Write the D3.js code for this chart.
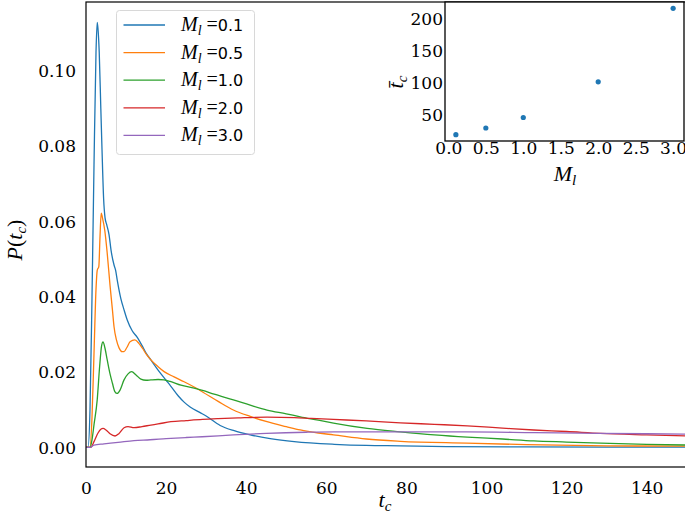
<!DOCTYPE html>
<html><head><meta charset="utf-8">
<script src="https://cdn.jsdelivr.net/npm/d3@7"></script>
<style>
html,body{margin:0;padding:0;background:#fff;}
svg{display:block;}
</style></head>
<body>
<svg id="chart" width="685" height="514"></svg>
<script>
// ---------- data ----------
const seriesLabels = ["0.1", "0.5", "1.0", "2.0", "3.0"];
const seriesColors = ["#1f77b4", "#ff7f0e", "#2ca02c", "#d62728", "#9467bd"];

const tBlue = [0,0.5,1.0,1.5,2.0,2.5,2.8,3.0,3.3,3.7,4.0,4.4,4.75,5.2,5.75,6.3,7.0,7.4,7.8,8.7,9.5,10.3,11.5,12.8,14,15,16.2,18,20,21.2,23,24.5,26,28.5,30,33.5,37,41,46,52,62,70,78.5,90,110,130,150];
const pBlue = [0,0,0.01,0.04,0.075,0.105,0.1128,0.111,0.105,0.09,0.079,0.066,0.061,0.059,0.0565,0.052,0.0484,0.047,0.0444,0.0395,0.0365,0.0338,0.031,0.0292,0.027,0.025,0.0232,0.0205,0.0178,0.0162,0.0137,0.012,0.0107,0.0092,0.0083,0.0058,0.0044,0.0033,0.0023,0.0015,0.0008,0.0005,0.0004,0.0002,0.0001,0.00006,0.00005];

const tOrange = [0,1.0,1.5,2.0,2.5,2.8,3.2,3.5,3.8,4.1,4.7,5.3,6.0,6.6,7.0,7.6,8.25,9.0,9.5,10.2,11.0,12.2,13.2,14.1,15,16.2,18,19.5,22,24.5,27,29.1,33,36.8,41,45.2,50,53.5,58,61.8,70,78.5,95,110,130,150];
const pOrange = [0,0,0.008,0.025,0.042,0.047,0.048,0.056,0.0622,0.061,0.0575,0.0515,0.043,0.0365,0.032,0.0285,0.0264,0.0254,0.0254,0.0265,0.028,0.0285,0.0276,0.0263,0.0248,0.0232,0.0214,0.0201,0.0187,0.0174,0.016,0.0147,0.0122,0.0099,0.0082,0.0068,0.0055,0.0046,0.0038,0.0033,0.0022,0.0016,0.0011,0.0007,0.0004,0.0003];

const tGreen = [0,1.0,1.5,2.0,2.8,3.4,3.9,4.25,4.7,5.3,6.0,6.6,7.2,7.8,8.5,9.5,10.5,11.4,12.5,13.7,15,16.2,18,19.5,21,23.7,27,29.1,32,36.8,41,45.2,50,53.5,58,61.8,70.2,78.5,87,95.2,104,111.8,120,128.5,140,150];
const pGreen = [0,0,0.002,0.006,0.0126,0.0214,0.027,0.028,0.0265,0.0232,0.0195,0.017,0.0148,0.0143,0.0152,0.0179,0.0195,0.0201,0.0192,0.0181,0.0178,0.0179,0.018,0.0179,0.0175,0.0165,0.0157,0.0151,0.0141,0.0126,0.0112,0.0099,0.0089,0.0081,0.0072,0.0064,0.005,0.0041,0.0033,0.0027,0.0022,0.0017,0.0014,0.0011,0.0008,0.0006];

const tRed = [0,1.2,2.0,3.0,3.7,4.25,5.0,6.0,7.25,8.2,9.5,10.5,12,14,16.2,18,21.2,25,29.1,33,38,45.2,52,56,61.8,70,78.5,87,95.2,104,111.8,120,128.5,140,150];
const pRed = [0,0,0.0015,0.0038,0.0048,0.005,0.0046,0.0036,0.003,0.0036,0.0052,0.0055,0.0052,0.0055,0.0059,0.0062,0.0068,0.0071,0.0074,0.0076,0.0078,0.008,0.0079,0.0077,0.0074,0.007,0.0065,0.0061,0.0057,0.0051,0.0046,0.0042,0.0037,0.0033,0.003];

const tPurple = [0,1,2,4.5,8,12,16,20,25,29,36.8,45,55,62,78.5,95,112,128,140,150];
const pPurple = [0,0,0.0006,0.0009,0.0013,0.0018,0.002,0.0023,0.0026,0.0028,0.0033,0.0037,0.004,0.0041,0.0041,0.0041,0.0039,0.0037,0.0036,0.0035];

const xTicks = [0,20,40,60,80,100,120,140];
const yTicks = [0,0.02,0.04,0.06,0.08,0.10];

// inset
const insetM = [0.1, 0.5, 1.0, 2.0, 3.0];
const insetT = [18.7, 29.1, 45.5, 101.3, 216];
const insetXTicks = [0,0.5,1.0,1.5,2.0,2.5,3.0];
const insetYTicks = [50,100,150,200];

// ---------- drawing ----------
const NUM = '"DejaVu Serif"';
const ITAL = '"Liberation Serif"';
const SANS = '"DejaVu Sans"';
const svg = d3.select("#chart");

const M = {l:86, r:686.7, t:2, b:467};
const x = d3.scaleLinear().domain([0,150]).range([M.l, M.r]);
const y = d3.scaleLinear().domain([-0.00523, 0.11824]).range([M.b, M.t]);

const series = [
  {t:tBlue, p:pBlue}, {t:tOrange, p:pOrange}, {t:tGreen, p:pGreen},
  {t:tRed, p:pRed}, {t:tPurple, p:pPurple}
];

svg.append("defs").append("clipPath").attr("id","mainclip")
  .append("rect").attr("x",M.l).attr("y",M.t).attr("width",M.r-M.l).attr("height",M.b-M.t);

const line = d3.line().x(d=>x(d[0])).y(d=>y(d[1])).curve(d3.curveMonotoneX);
const gLines = svg.append("g").attr("clip-path","url(#mainclip)");
series.forEach((s,i)=>{
  const pts = s.t.map((t,j)=>[t, s.p[j]]);
  gLines.append("path").datum(pts).attr("d", line)
    .attr("fill","none").attr("stroke", seriesColors[i]).attr("stroke-width",1.3)
    .attr("stroke-linejoin","round");
});

function styleTicks(g){
  g.attr("font-family", null);
  g.select(".domain").remove();
  g.selectAll("text").attr("font-family","DejaVu Serif").style("font-family",NUM)
    .style("font-size","17px").attr("fill","#000");
}

const xAxis = d3.axisBottom(x).tickValues(xTicks).tickSize(0).tickPadding(15).tickFormat(d3.format("d"));
const gx = svg.append("g").attr("transform",`translate(0,${M.b})`).call(xAxis);
const yAxis = d3.axisLeft(y).tickValues(yTicks).tickSize(0).tickPadding(10).tickFormat(d3.format(".2f"));
const gy = svg.append("g").attr("transform",`translate(${M.l},0)`).call(yAxis);
styleTicks(gx); styleTicks(gy);
gy.selectAll("text").attr("dy","0.35em");

svg.append("rect").attr("x",M.l).attr("y",M.t).attr("width",M.r-M.l).attr("height",M.b-M.t)
  .attr("fill","none").attr("stroke","#000").attr("stroke-width",1.2);

// axis labels
const xl = svg.append("text").attr("x",385).attr("y",507).attr("text-anchor","middle")
  .style("font-family",ITAL).style("font-size","22px").style("font-style","italic");
xl.append("tspan").text("t");
xl.append("tspan").style("font-size","15px").attr("dy",4).text("c");

const yl = svg.append("text").attr("transform","translate(22,240) rotate(-90)").attr("text-anchor","middle")
  .style("font-family",ITAL).style("font-size","22px");
yl.append("tspan").style("font-style","italic").text("P");
yl.append("tspan").text("(");
yl.append("tspan").style("font-style","italic").text("t");
yl.append("tspan").style("font-style","italic").style("font-size","15px").attr("dy",4).text("c");
yl.append("tspan").attr("dy",-4).text(")");

// legend
const lg = svg.append("g");
lg.append("rect").attr("x",116.5).attr("y",10.5).attr("width",138).attr("height",144).attr("rx",3)
  .attr("fill","#fff").attr("fill-opacity",0.8).attr("stroke","#d8d8d8").attr("stroke-width",1);
seriesLabels.forEach((lab,i)=>{
  const yy = 25 + i*27.6;
  lg.append("line").attr("x1",123.5).attr("x2",165).attr("y1",yy).attr("y2",yy)
    .attr("stroke",seriesColors[i]).attr("stroke-width",1.3);
  const t = lg.append("text").attr("x",181).attr("y",yy+6).style("font-size","20px").style("font-family",ITAL);
  t.append("tspan").style("font-family",ITAL).style("font-style","italic").text("M");
  t.append("tspan").style("font-family",ITAL).style("font-style","italic").style("font-size","14px").attr("dy",4).text("l");
  t.append("tspan").style("font-family",ITAL).attr("dy",-4).text(" =");
  t.append("tspan").style("font-family",SANS).style("font-size","16px").text(lab);
});

// inset
const I = {l:445, r:684, t:2, b:141};
const ix = d3.scaleLinear().domain([-0.045, 3.145]).range([I.l, I.r]);
const ext = d3.extent(insetT), pad = (ext[1]-ext[0])*0.05;
const iy = d3.scaleLinear().domain([ext[0]-pad, ext[1]+pad]).range([I.b, I.t]);
svg.append("rect").attr("x",I.l).attr("y",I.t).attr("width",I.r-I.l).attr("height",I.b-I.t)
  .attr("fill","#fff").attr("stroke","#000").attr("stroke-width",1.3);
svg.append("g").selectAll("circle").data(insetM.map((m,i)=>[m, insetT[i]])).join("circle")
  .attr("cx",d=>ix(d[0])).attr("cy",d=>iy(d[1])).attr("r",2.6).attr("fill","#1f77b4");
const igx = svg.append("g").attr("transform",`translate(0,${I.b})`)
  .call(d3.axisBottom(ix).tickValues(insetXTicks).tickSize(0).tickPadding(1).tickFormat(d3.format(".1f")));
const igy = svg.append("g").attr("transform",`translate(${I.l},0)`)
  .call(d3.axisLeft(iy).tickValues(insetYTicks).tickSize(0).tickPadding(2).tickFormat(d3.format("d")));
styleTicks(igx); styleTicks(igy);
igy.selectAll("text").attr("dy","0.35em");

const ixl = svg.append("text").attr("x",565).attr("y",181).attr("text-anchor","middle")
  .style("font-family",ITAL).style("font-size","22px").style("font-style","italic");
ixl.append("tspan").text("M");
ixl.append("tspan").style("font-size","15px").attr("dy",4).text("l");

const iyl = svg.append("text").attr("transform","translate(403,82) rotate(-90)").attr("text-anchor","middle")
  .style("font-family",ITAL).style("font-size","22px").style("font-style","italic");
iyl.append("tspan").text("t\u0304");
iyl.append("tspan").style("font-size","15px").attr("dy",4).text("c");
</script>
</body></html>
